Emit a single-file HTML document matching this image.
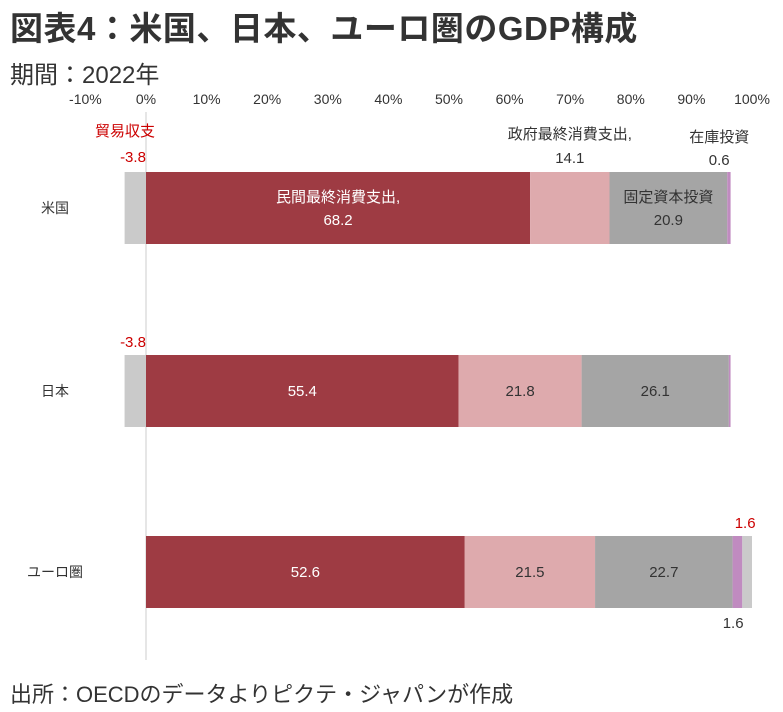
<!DOCTYPE html>
<html><head><meta charset="utf-8"><style>
body{margin:0;width:783px;height:712px;background:#fff;overflow:hidden;font-family:"Liberation Sans","Noto Sans CJK JP",sans-serif;}
#title{position:absolute;left:10px;top:2px;font-size:33px;font-weight:bold;color:#333;letter-spacing:0.5px;white-space:nowrap}
#period{position:absolute;left:10px;top:55px;font-size:24px;color:#333;white-space:nowrap}
#src{position:absolute;left:10px;top:677px;font-size:22px;color:#333;white-space:nowrap}
svg{position:absolute;left:0;top:0}
</style></head><body>
<div id="title">図表4：米国、日本、ユーロ圏のGDP構成</div>
<div id="period">期間：2022年</div>
<div id="src">出所：OECDのデータよりピクテ・ジャパンが作成</div>
<svg id="chart" width="783" height="712"></svg>
<script>
const categories=["米国","日本","ユーロ圏"];
const trade=[-3.8,-3.8,1.6];
const privateCons=[68.2,55.4,52.6];
const govCons=[14.1,21.8,21.5];
const fixedInv=[20.9,26.1,22.7];
const inventory=[0.6,0.3,1.6];
const tickLabels=["-10%","0%","10%","20%","30%","40%","50%","60%","70%","80%","90%","100%"];
const tickValues=[-10,0,10,20,30,40,50,60,70,80,90,100];

const svg=document.getElementById('chart');
const NS='http://www.w3.org/2000/svg';
const x0=146,pxPer=6.06;
function xs(p){return x0+p*pxPer;}
const barTops=[172,355,536],barH=72;
function mk(tag,attrs,parent){const e=document.createElementNS(NS,tag);for(const k in attrs)e.setAttribute(k,attrs[k]);(parent||svg).appendChild(e);return e;}
function txt(s,x,y,size,fill,anchor){const t=mk('text',{x:x,y:y,'font-size':size,fill:fill,'text-anchor':anchor||'middle','font-family':'"Liberation Sans","Noto Sans CJK JP",sans-serif'});t.textContent=s;return t;}

tickValues.forEach((v,i)=>{
  const t=txt(tickLabels[i],xs(v),104,14,'#333');
  
  
});
const zl=mk('line',{x1:x0,x2:x0,y1:112,y2:660,stroke:'#ddd','stroke-width':1.5});



const colors={trade:'#cacaca',priv:'#9e3b43',gov:'#deaaad',fix:'#a5a5a5',inv:'#c08bc0'};
categories.forEach((c,i)=>{
  const top=barTops[i],mid=top+barH/2;
  const total=Math.abs(trade[i])+privateCons[i]+govCons[i]+fixedInv[i]+inventory[i];
  const n=v=>v/total*100;
  const cl=txt(c,55,mid+5,14,'#333');
  
  
  let cur=0;
  if(trade[i]<0){
    const r=mk('rect',{x:xs(n(trade[i])),y:top,width:xs(0)-xs(n(trade[i])),height:barH,fill:colors.trade});
    
    
  }
  const segs=[[privateCons[i],colors.priv,'bar-private-consumption'],[govCons[i],colors.gov,'bar-government-consumption'],[fixedInv[i],colors.fix,'bar-fixed-investment'],[inventory[i],colors.inv,'bar-inventory']];
  if(trade[i]>0)segs.push([trade[i],colors.trade,'bar-trade']);
  const starts=[];
  segs.forEach(s=>{
    const w=n(s[0]);
    starts.push([cur,w]);
    const r=mk('rect',{x:xs(cur),y:top,width:w*pxPer,height:barH,fill:s[1]});
    
    
    cur+=w;
  });
  const cx=k=>xs(starts[k][0]+starts[k][1]/2);
  if(i===0){
    txt('民間最終消費支出,',cx(0),mid-6,15,'#fff');
    txt(privateCons[i].toFixed(1),cx(0),mid+17,15,'#fff');
    txt('政府最終消費支出,',cx(1),top-33,15,'#333');
    txt(govCons[i].toFixed(1),cx(1),top-9,15,'#333');
    txt('固定資本投資',cx(2),mid-6,15,'#333');
    txt(fixedInv[i].toFixed(1),cx(2),mid+17,15,'#333');
    txt('在庫投資',xs(starts[3][0])-8,top-30,15,'#333');
    txt(inventory[i].toFixed(1),xs(starts[3][0])-8,top-7,15,'#333');
    txt('貿易収支',125,top-36,15,'#cc0000');
    txt(trade[i].toFixed(1),133,top-10,15,'#cc0000');
  }else{
    txt(privateCons[i].toFixed(1),cx(0),mid+5,15,'#fff');
    txt(govCons[i].toFixed(1),cx(1),mid+5,15,'#333');
    txt(fixedInv[i].toFixed(1),cx(2),mid+5,15,'#333');
    if(i===1){txt(trade[i].toFixed(1),133,top-8,15,'#cc0000');}
    else{
      txt(trade[i].toFixed(1),cx(4)-2,top-8,15,'#cc0000');
      txt(inventory[i].toFixed(1),cx(4)-14,top+barH+20,15,'#333');
    }
  }
});
</script>
</body></html>
